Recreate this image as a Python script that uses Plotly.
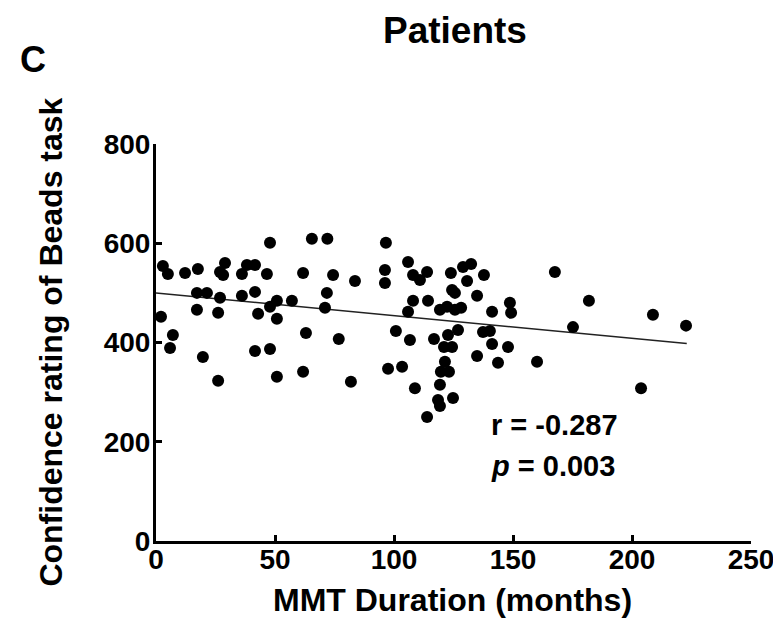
import plotly.graph_objects as go

# MMT duration (months) and confidence rating
mmt_months = [
    2.9, 5.0, 12.2, 17.6, 26.9, 29.0, 28.2, 36.1, 38.2, 41.6, 46.6, 61.8, 74.4,
    17.2, 21.4, 26.9, 36.1, 41.6, 50.8, 47.9, 57.1, 71.8, 71.0,
    17.2, 26.1, 42.9, 50.8, 2.1, 7.1, 5.9, 63.0, 76.8, 41.6, 47.9, 19.7,
    61.8, 50.8, 26.1,
    83.6, 96.2, 96.2, 105.9, 108.0, 110.9, 113.9, 123.9, 129.0, 132.4, 137.8,
    130.7, 124.4, 125.6, 134.9, 148.7, 149.2, 108.0, 105.9, 114.3, 119.3,
    122.3, 125.6, 128.2, 141.2, 100.8, 106.7, 116.8, 122.7, 126.9, 121.0,
    124.4, 137.4, 140.3, 141.2, 147.9, 134.9, 143.7, 160.1, 97.5, 103.4,
    121.4, 119.7, 123.1, 81.9, 108.8, 119.3, 118.5, 119.3, 124.8, 113.9,
    65.5, 72.0, 96.6, 47.9,
    167.6, 181.9, 208.8, 222.7, 175.2, 203.8,
]
confidence = [
    554, 538, 540, 548, 542, 560, 536, 538, 556, 556, 538, 540, 536,
    500, 500, 490, 494, 502, 484, 472, 484, 500, 470,
    466, 460, 458, 448, 452, 415, 389, 419, 407, 383, 387, 371,
    341, 331, 323,
    524, 546, 520, 562, 536, 526, 542, 540, 552, 558, 536,
    524, 506, 500, 494, 480, 460, 484, 462, 484, 466,
    472, 466, 470, 462, 423, 405, 407, 415, 425, 391,
    391, 421, 423, 397, 391, 373, 359, 361, 347, 351,
    361, 341, 341, 321, 308, 315, 284, 272, 288, 250,
    609, 609, 601, 601,
    542, 484, 456, 434, 431, 308,
]

# Regression line end points
fit_x = [0, 223]
fit_y = [500, 398]

x_ticks = [0, 50, 100, 150, 200, 250]
y_ticks = [0, 200, 400, 600, 800]

title_text = "Patients"
panel_label = "C"
x_title = "MMT Duration (months)"
y_title = "Confidence rating of Beads task"
r_text = "r = -0.287"
p_text = "<i>p</i> = 0.003"

FONT = "Arial, Liberation Sans, sans-serif"

fig = go.Figure()
fig.add_trace(go.Scatter(
    x=fit_x, y=fit_y, mode="lines",
    line=dict(color="#222222", width=1.5),
    hoverinfo="skip", showlegend=False,
))
fig.add_trace(go.Scatter(
    x=mmt_months, y=confidence, mode="markers",
    marker=dict(color="black", size=12),
    cliponaxis=False, showlegend=False,
))

axis_common = dict(
    showline=True, linecolor="black", linewidth=3,
    ticks="inside", ticklen=6, tickwidth=2.5, tickcolor="black",
    showgrid=False, zeroline=False,
    tickfont=dict(family=FONT, size=28, color="black", weight="bold"),
)
fig.update_xaxes(range=[0, 250], tickvals=x_ticks, ticklabelstandoff=-9,
                 **axis_common)
fig.update_yaxes(range=[0, 800], tickvals=y_ticks, ticklabelstandoff=-3,
                 **axis_common)

ann_font = dict(family=FONT, color="black", weight="bold")
common = dict(xref="paper", yref="paper", showarrow=False,
              xanchor="center", yanchor="middle")
fig.update_layout(
    width=781, height=630,
    margin=dict(l=148, r=38, t=136, b=97),
    paper_bgcolor="white", plot_bgcolor="white",
    annotations=[
        dict(text=title_text, x=0.503, y=1.287,
             font=dict(size=37, **ann_font), **common),
        dict(text=panel_label, x=-0.207, y=1.212,
             font=dict(size=36, **ann_font), **common),
        dict(text=x_title, x=0.499, y=-0.149,
             font=dict(size=32, **ann_font), **common),
        dict(text=y_title, x=-0.178, y=0.5, textangle=-90,
             font=dict(size=32, **ann_font), **common),
        dict(text=r_text, xref="x", yref="y", x=140, y=234, xanchor="left",
             yanchor="middle", showarrow=False,
             font=dict(size=29, **ann_font)),
        dict(text=p_text, xref="x", yref="y", x=140, y=151, xanchor="left",
             yanchor="middle", showarrow=False,
             font=dict(size=29, **ann_font)),
    ],
)

fig.write_html("out.html")
